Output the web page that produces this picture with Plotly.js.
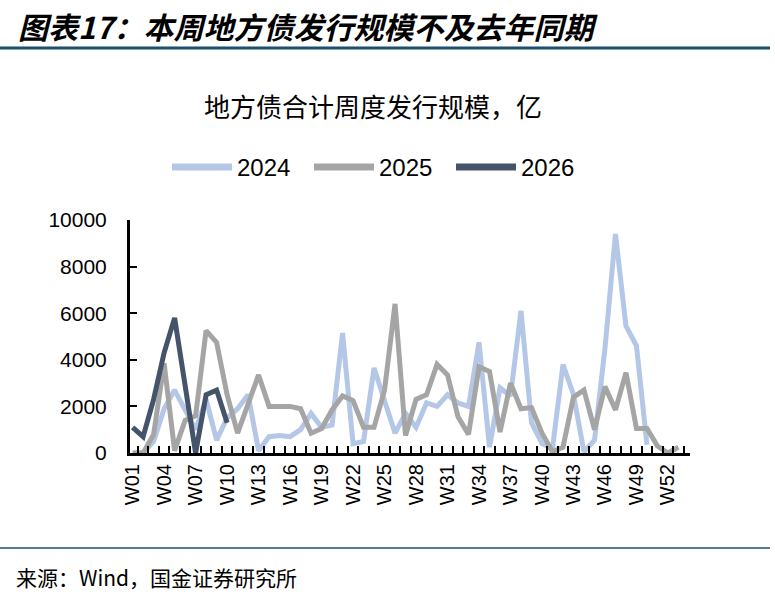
<!DOCTYPE html>
<html>
<head>
<meta charset="utf-8">
<script src="https://cdn.plot.ly/plotly-3.0.1.min.js"></script>
<style>
  html, body { margin: 0; padding: 0; background: #fff; }
  #chart { width: 775px; height: 597px; }
</style>
</head>
<body>
<div id="chart"></div>
<script>
// ---- data (亿元) ----
const weeks = ['W01','W02','W03','W04','W05','W06','W07','W08','W09','W10',
  'W11','W12','W13','W14','W15','W16','W17','W18','W19','W20',
  'W21','W22','W23','W24','W25','W26','W27','W28','W29','W30',
  'W31','W32','W33','W34','W35','W36','W37','W38','W39','W40',
  'W41','W42','W43','W44','W45','W46','W47','W48','W49','W50',
  'W51','W52','W53'];
const labelWeeks = ['W01','W04','W07','W10','W13','W16','W19','W22','W25','W28',
  'W31','W34','W37','W40','W43','W46','W49','W52'];

const s2024 = [0, 0, 500, 1900, 2700, 1900, 1000, 2300, 550, 1500,
  1900, 2500, 100, 700, 750, 700, 1000, 1700, 1100, 1200,
  5150, 400, 500, 3650, 2250, 850, 1700, 1100, 2150, 2000,
  2500, 2150, 2000, 4750, 250, 2800, 2450, 6100, 1300, 400,
  200, 3800, 2500, 50, 550, 4500, 9400, 5450, 4600, 350];
const s2025 = [0, 0, 800, 3850, 100, 1400, 1600, 5250, 4750, 2500,
  850, 2100, 3350, 2000, 2000, 2000, 1900, 850, 1050, 1850,
  2450, 2250, 1100, 1100, 2700, 6400, 750, 2300, 2500, 3800,
  3350, 1550, 800, 3700, 3500, 900, 3000, 1900, 1950, 850,
  50, 250, 2400, 2700, 1000, 2850, 1850, 3450, 1050, 1050,
  300, 0, 250];
const s2026 = [1100, 700, 2300, 4300, 5800, 2900, 0, 2500, 2700, 1300];

const seriesNames = ['2024', '2025', '2026'];
const seriesColors = ['#B4C7E7', '#A5A5A5', '#44546A'];

// ---- pixel helpers ----
const L = 130, R = 690, T = 220, B = 453;
const px = x => (x - L) / (R - L);
const py = y => (B - y) / (B - T);

const tickText = weeks.map(w => labelWeeks.includes(w) ? w : '');
const xRange = [-0.25, 53.1];

const traces = [s2024, s2025, s2026].map((vals, k) => ({
  type: 'scatter',
  mode: 'lines',
  name: seriesNames[k],
  x: weeks.slice(0, vals.length),
  y: vals,
  line: { color: seriesColors[k], width: 5 },
  hoverinfo: 'x+y',
  showlegend: false
}));

const FONT = 'Liberation Sans, Arial, sans-serif';
const CJK = 'Noto Sans CJK SC, sans-serif';

// hand-placed legend (long line samples like the original)
const legendShapes = [], legendTexts = [];
const legendStarts = [172, 314, 456];
seriesNames.forEach((n, k) => {
  const x0 = legendStarts[k];
  legendShapes.push({ type: 'line', xref: 'paper', yref: 'paper',
    x0: px(x0), x1: px(x0 + 60), y0: py(167), y1: py(167),
    line: { color: seriesColors[k], width: 7 } });
  legendTexts.push({ xref: 'paper', yref: 'paper', x: px(x0 + 63), y: py(167),
    xanchor: 'left', yanchor: 'middle', text: n, showarrow: false,
    font: { size: 24, family: FONT, color: '#000' } });
});

const layout = {
  width: 775, height: 597,
  margin: { l: L, r: 775 - R, t: T, b: 597 - B, pad: 0 },
  paper_bgcolor: '#fff', plot_bgcolor: '#fff',
  font: { family: FONT, color: '#000' },
  showlegend: false,
  xaxis: {
    type: 'category',
    range: xRange,
    tickmode: 'array', tickvals: weeks, ticktext: tickText,
    tickson: 'boundaries',
    ticks: 'inside', ticklen: 7, tickwidth: 2, tickcolor: '#000',
    tickangle: -90,
    tickfont: { size: 20, family: FONT, color: '#000' },
    showline: true, linecolor: '#000', linewidth: 3,
    showgrid: false, zeroline: false, fixedrange: true
  },
  yaxis: {
    range: [0, 10000], dtick: 2000, tick0: 0, tickformat: 'd',
    ticks: 'inside', ticklen: 7, tickwidth: 2, tickcolor: '#000',
    tickfont: { size: 21, family: FONT, color: '#000' },
    ticklabelstandoff: 16,
    showline: true, linecolor: '#000', linewidth: 3,
    showgrid: false, zeroline: false, fixedrange: true
  },
  shapes: [
    { type: 'line', xref: 'paper', yref: 'paper', x0: px(0), x1: px(770), y0: py(48), y1: py(48),
      line: { color: '#1B4F72', width: 3 } },
    { type: 'line', xref: 'paper', yref: 'paper', x0: px(0), x1: px(770), y0: py(548), y1: py(548),
      line: { color: '#1B4F72', width: 1.5 } }
  ].concat(legendShapes),
  annotations: [
    { xref: 'paper', yref: 'paper', x: px(16), y: py(26), xanchor: 'left', yanchor: 'middle',
      text: '<b><i>图表17：本周地方债发行规模不及去年同期</i></b>', showarrow: false,
      font: { size: 30, family: CJK, color: '#000' } },
    { xref: 'paper', yref: 'paper', x: px(373), y: py(105), xanchor: 'center', yanchor: 'middle',
      text: '地方债合计周度发行规模，亿', showarrow: false,
      font: { size: 26, family: CJK, color: '#000' } },
    { xref: 'paper', yref: 'paper', x: px(14), y: py(577), xanchor: 'left', yanchor: 'middle',
      text: '来源：Wind，国金证券研究所', showarrow: false,
      font: { size: 21, family: CJK, color: '#000' } }
  ].concat(legendTexts)
};

Plotly.newPlot('chart', traces, layout, { displayModeBar: false, staticPlot: true });
</script>
</body>
</html>
